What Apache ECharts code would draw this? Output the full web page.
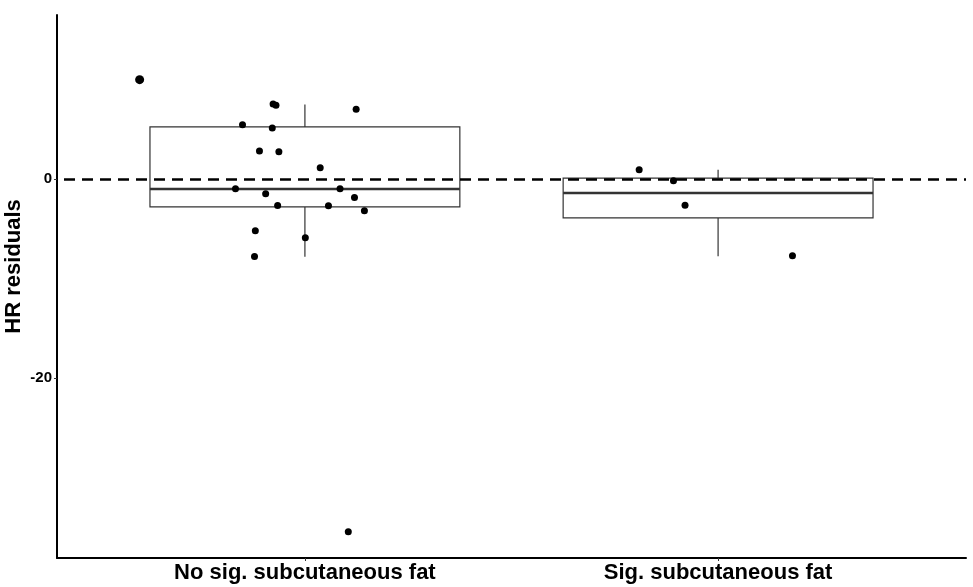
<!doctype html>
<html lang="en">
<head>
    <meta charset="UTF-8">
    <title>HR residuals</title>
    <script src="https://cdn.jsdelivr.net/npm/echarts@6/dist/echarts.min.js"></script>
</head>
<body style="margin:0;background-color:#fff;">
<div id="main" style="width:973px;height:587px;"></div>
<script>
    var categories = ['No sig. subcutaneous fat', 'Sig. subcutaneous fat'];
    var yTicks = [-20, 0];

    // box stats per group: [low whisker, q1, median, q3, high whisker]
    var boxNoSig = [-7.8, -2.8, -1.0, 5.25, 7.5];
    var boxSig = [-7.75, -3.9, -1.4, 0.1, 0.95];

    // jittered points: x position (group index + jitter), residual
    var pointsNoSig = [
        [0.923, 7.55], [0.930, 7.42], [1.124, 7.02], [0.849, 5.47],
        [0.921, 5.14], [0.890, 2.82], [0.937, 2.75], [1.037, 1.14], [0.832, -0.97],
        [1.085, -0.97], [0.905, -1.48], [1.120, -1.84], [0.934, -2.65], [1.057, -2.69],
        [1.144, -3.19], [0.880, -5.2], [1.001, -5.91], [0.878, -7.79], [1.105, -35.45]
    ];
    // the heavier mark at the upper left
    var pointsTop = [[0.600, 10.0]];
    var pointsSig = [
        [1.809, 0.94], [1.892, -0.17], [1.920, -2.62], [2.180, -7.72]
    ];

    var boxData = [[1].concat(boxNoSig), [2].concat(boxSig)];
    var boxWidth = 0.75;
    var font = 'Liberation Sans, Arial, sans-serif';

    var myChart = echarts.init(document.getElementById('main'));

    function renderBox(params, api) {
        var x = api.value(0);
        var low = api.coord([x, api.value(1)]);
        var q1 = api.coord([x - boxWidth / 2, api.value(2)]);
        var med = api.value(3);
        var q3 = api.coord([x + boxWidth / 2, api.value(4)]);
        var high = api.coord([x, api.value(5)]);
        var mL = api.coord([x - boxWidth / 2, med]);
        var mR = api.coord([x + boxWidth / 2, med]);
        var line = {stroke: '#333', lineWidth: 1.2};
        return {
            type: 'group',
            children: [
                {type: 'line', shape: {x1: high[0], y1: high[1], x2: high[0], y2: q3[1]}, style: line},
                {type: 'line', shape: {x1: low[0], y1: low[1], x2: low[0], y2: q1[1]}, style: line},
                {type: 'rect', shape: {x: q1[0], y: q3[1], width: q3[0] - q1[0], height: q1[1] - q3[1]},
                    style: {fill: 'none', stroke: '#333', lineWidth: 1.2}},
                {type: 'line', shape: {x1: mL[0], y1: mL[1], x2: mR[0], y2: mR[1]},
                    style: {stroke: '#333', lineWidth: 2.4}}
            ]
        };
    }

    var option = {
        animation: false,
        backgroundColor: '#fff',
        grid: {left: 57, right: 7, top: 15, bottom: 29, containLabel: false, outerBoundsMode: 'none'},
        xAxis: {
            type: 'value',
            min: 0.4,
            max: 2.6,
            splitLine: {show: false},
            axisLine: {onZero: false, lineStyle: {color: '#000', width: 2}},
            axisTick: {show: true, customValues: [1, 2], length: 3, lineStyle: {color: '#333'}},
            axisLabel: {
                customValues: [1, 2],
                margin: 4,
                color: '#000',
                fontFamily: font,
                fontWeight: 'bold',
                fontSize: 22,
                formatter: function (v) { return categories[Math.round(v) - 1]; }
            }
        },
        yAxis: {
            type: 'value',
            min: -38.1,
            max: 16.5,
            name: 'HR residuals',
            nameLocation: 'middle',
            nameRotate: 90,
            nameGap: 32,
            nameMoveOverlap: false,
            nameTextStyle: {color: '#000', fontFamily: font, fontWeight: 'bold', fontSize: 22, padding: [0, 0, 0, 40]},
            splitLine: {show: false},
            axisLine: {show: true, onZero: false, lineStyle: {color: '#000', width: 2}},
            axisTick: {show: true, customValues: yTicks, length: 3, lineStyle: {color: '#333'}},
            axisLabel: {
                customValues: yTicks,
                margin: 5,
                color: '#000',
                fontFamily: font,
                fontWeight: 'bold',
                fontSize: 15
            }
        },
        series: [
            {
                type: 'custom',
                renderItem: renderBox,
                data: boxData,
                encode: {x: 0, y: [1, 2, 3, 4, 5]},
                z: 2
            },
            {
                type: 'scatter',
                data: pointsNoSig,
                symbolSize: 7,
                itemStyle: {color: '#000', opacity: 1},
                z: 3,
                markLine: {
                    silent: true,
                    symbol: 'none',
                    label: {show: false},
                    lineStyle: {color: '#000', type: [11, 7], dashOffset: 11, width: 2.5, opacity: 1},
                    data: [{yAxis: 0}]
                }
            },
            {
                type: 'scatter',
                data: pointsTop,
                symbolSize: 9,
                itemStyle: {color: '#000', opacity: 1},
                z: 3
            },
            {
                type: 'scatter',
                data: pointsSig,
                symbolSize: 7,
                itemStyle: {color: '#000', opacity: 1},
                z: 3
            }
        ]
    };
    myChart.setOption(option);
</script>
</body>
</html>
